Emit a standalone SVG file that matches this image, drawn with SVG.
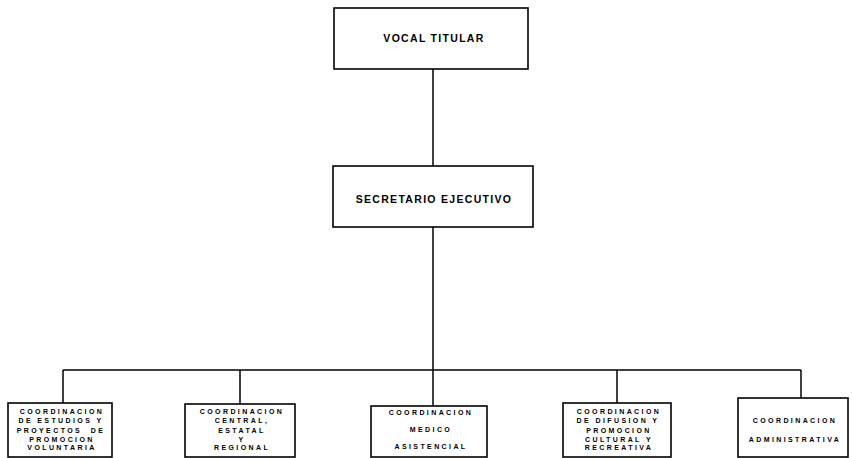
<svg xmlns="http://www.w3.org/2000/svg" width="853" height="458" viewBox="0 0 853 458">
<style>
.box{fill:#fff;stroke:#000;stroke-width:1.6}
.ln{fill:none;stroke:#000;stroke-width:1.5}
.big{font-family:"Liberation Sans",Arial,sans-serif;font-weight:bold;font-size:10.5px;letter-spacing:1.3px;text-anchor:middle;fill:#000}
.sm{font-family:"Liberation Sans",Arial,sans-serif;font-weight:bold;font-size:7px;letter-spacing:2.4px;text-anchor:middle;fill:#000}
</style>
<rect width="853" height="458" fill="#fff"/>
<g id="connectors">
<path class="ln" d="M433 69V166M433 227V370M63 370H801M63 370V403M240 370V404M433 370V406M617 370V403M801 370V398"/>
</g>
<g id="vocal">
<rect class="box" x="334" y="8" width="194" height="61"/>
<text class="big" x="434" y="42">VOCAL TITULAR</text>
</g>
<g id="secretario">
<rect class="box" x="333" y="166" width="200" height="61"/>
<text class="big" x="434" y="203">SECRETARIO EJECUTIVO</text>
</g>
<g id="c1">
<rect class="box" x="8" y="403" width="104" height="54"/>
<text class="sm" x="62" y="414">COORDINACION</text>
<text class="sm" x="61" y="423">DE ESTUDIOS Y</text>
<text class="sm" x="61" y="433" xml:space="preserve">PROYECTOS  DE</text>
<text class="sm" x="62" y="442">PROMOCION</text>
<text class="sm" x="62" y="450">VOLUNTARIA</text>
</g>
<g id="c2">
<rect class="box" x="185" y="404" width="110" height="53"/>
<text class="sm" x="242" y="414">COORDINACION</text>
<text class="sm" x="242" y="423">CENTRAL,</text>
<text class="sm" x="242" y="433">ESTATAL</text>
<text class="sm" x="242" y="442">Y</text>
<text class="sm" x="242" y="450">REGIONAL</text>
</g>
<g id="c3">
<rect class="box" x="371" y="406" width="116" height="51"/>
<text class="sm" x="431" y="415">COORDINACION</text>
<text class="sm" x="431" y="432">MEDICO</text>
<text class="sm" x="431" y="449">ASISTENCIAL</text>
</g>
<g id="c4">
<rect class="box" x="563" y="403" width="108" height="54"/>
<text class="sm" x="619" y="414">COORDINACION</text>
<text class="sm" x="618" y="423">DE DIFUSION Y</text>
<text class="sm" x="619" y="433">PROMOCION</text>
<text class="sm" x="619" y="442">CULTURAL Y</text>
<text class="sm" x="619" y="450">RECREATIVA</text>
</g>
<g id="c5">
<rect class="box" x="738" y="398" width="110" height="59"/>
<text class="sm" x="795" y="423">COORDINACION</text>
<text class="sm" x="795" y="442">ADMINISTRATIVA</text>
</g>
</svg>
